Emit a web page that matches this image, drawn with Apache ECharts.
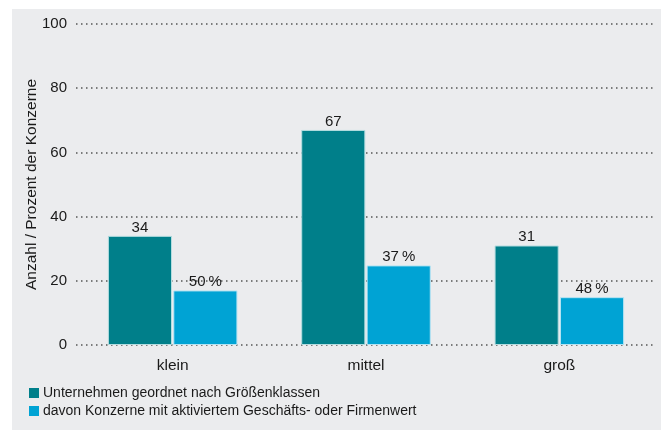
<!DOCTYPE html>
<html>
<head>
<meta charset="utf-8">
<script src="https://cdn.jsdelivr.net/npm/echarts@6/dist/echarts.min.js"></script>
<style>
  html, body { margin: 0; padding: 0; background: #fff; }
  #chart { width: 661px; height: 430px; }
</style>
</head>
<body>
<div id="chart"></div>
<script>
const categories = ['klein', 'mittel', 'groß']
const companyCounts = [34, 67, 31]
const groupValues = [17, 24.8, 14.9]
const groupShares = ['50\u202F%', '37\u202F%', '48\u202F%']
const seriesNames = [
  'Unternehmen geordnet nach Größenklassen',
  'davon Konzerne mit aktiviertem Geschäfts- oder Firmenwert'
]

const fontFamily = '"Liberation Sans", Arial, Helvetica, sans-serif'
const textColor = '#1a1a1a'
const mychart = echarts.init(document.getElementById('chart'))

mychart.setOption({
  animation: false,
  textStyle: { fontFamily },
  graphic: [{
    type: 'rect',
    z: -10,
    shape: { x: 12, y: 9, width: 649, height: 421 },
    style: { fill: '#ebecee' }
  }],
  grid: { left: 76, right: 5, top: 24, bottom: 85 },
  legend: {
    orient: 'vertical',
    left: 29,
    top: 386,
    padding: 0,
    itemWidth: 10,
    itemHeight: 10,
    itemGap: 4,
    icon: 'rect',
    itemStyle: { borderWidth: 0 },
    textStyle: { fontSize: 14, color: textColor, fontFamily, padding: [0, 0, 0, -1] },
    data: seriesNames
  },
  xAxis: {
    type: 'category',
    data: categories,
    axisLine: { show: false },
    axisTick: { show: false },
    axisLabel: { fontSize: 15.5, color: textColor, margin: 13, fontFamily }
  },
  yAxis: {
    type: 'value',
    min: 0,
    max: 100,
    interval: 20,
    name: 'Anzahl / Prozent der Konzerne',
    nameLocation: 'middle',
    nameMoveOverlap: false,
    nameGap: 36,
    nameTextStyle: { fontSize: 15.5, color: textColor, fontFamily },
    axisLine: { show: false },
    axisTick: { show: false },
    axisLabel: { fontSize: 15, color: textColor, margin: 9, fontFamily },
    splitLine: { lineStyle: { color: '#555', type: [1.5, 3.5], width: 1.5 } }
  },
  series: [
    {
      name: seriesNames[0],
      type: 'bar',
      data: companyCounts,
      barGap: '2%',
      barCategoryGap: '33%',
      itemStyle: { color: '#007f8a', borderColor: '#b5dde0', borderWidth: 1 },
      label: { show: true, position: 'top', fontSize: 15, color: textColor, distance: 1, fontFamily }
    },
    {
      name: seriesNames[1],
      type: 'bar',
      data: groupValues,
      itemStyle: { color: '#00a3d4', borderColor: '#b5e3f2', borderWidth: 1 },
      label: {
        show: true,
        position: 'top',
        fontSize: 15,
        color: textColor,
        distance: 1,
        fontFamily,
        formatter: p => groupShares[p.dataIndex]
      }
    }
  ]
})
</script>
</body>
</html>
